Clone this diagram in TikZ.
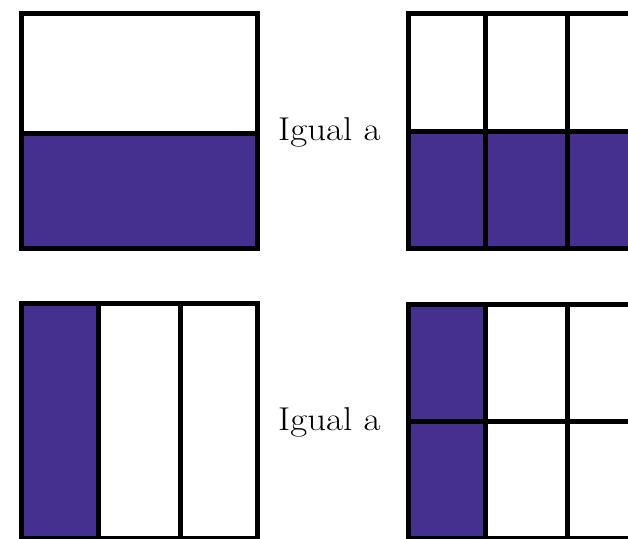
\documentclass[tikz,border=0pt]{standalone}
\definecolor{fillpurple}{HTML}{45308F}
\tikzset{
  gridline/.style={draw=black, line width=5pt, line cap=rect, line join=miter},
  shaded/.style={fill=fillpurple},
  label/.style={font=\fontsize{33}{40}\selectfont, anchor=base west, inner sep=0pt}
}
\newcommand{\wideword}[1]{\scalebox{1.12}[1]{#1}}
\begin{document}
\begin{tikzpicture}[x=1pt,y=-1pt]
\useasboundingbox (0,0) rectangle (628,538);
\fill[white] (0,0) rectangle (628,538);
\begin{scope}
\clip (0,0) rectangle (628,538);
% top left
\fill[shaded] (21.5,133) rectangle (257.5,248.5);
\draw[gridline] (21.5,13.5) rectangle (257.5,248.5);
\draw[gridline] (21.5,133) -- (257.5,133);
% top right
\fill[shaded] (408,131) rectangle (650,248.5);
\draw[gridline] (408,13.5) rectangle (650,248.5);
\draw[gridline] (408,131) -- (650,131);
\draw[gridline] (485.5,13.5) -- (485.5,248.5);
\draw[gridline] (567.5,13.5) -- (567.5,248.5);
% bottom left
\fill[shaded] (21.5,303.5) rectangle (98.5,538.5);
\draw[gridline] (21.5,303.5) rectangle (257.5,538.5);
\draw[gridline] (98.5,303.5) -- (98.5,538.5);
\draw[gridline] (180.5,303.5) -- (180.5,538.5);
% bottom right
\fill[shaded] (408,304) rectangle (485.5,538.5);
\draw[gridline] (408,304) rectangle (650,538.5);
\draw[gridline] (485.5,304) -- (485.5,538.5);
\draw[gridline] (567.5,304) -- (567.5,538.5);
\draw[gridline] (408,421.5) -- (650,421.5);
\end{scope}
\node[label] (t1) at (278,140) {\wideword{Igual a}};
\node[label] (t2) at (278,430) {\wideword{Igual a}};
\end{tikzpicture}
\end{document}
